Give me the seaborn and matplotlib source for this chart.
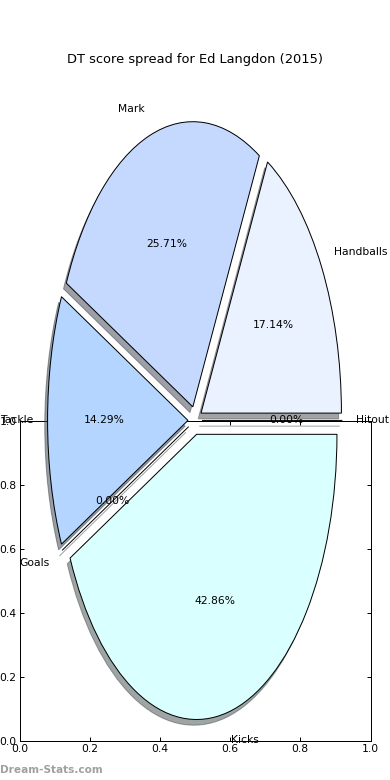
import matplotlib
matplotlib.use("Agg")
import matplotlib.pyplot as plt
import seaborn as sns

# ---- data ----
labels = ["Hitout", "Handballs", "Mark", "Tackle", "Goals", "Kicks"]
values = [0, 18, 27, 15, 0, 45]
colors = ["#E0E8FF", "#EAF1FF", "#C5D9FF", "#B3D5FF", "#D0E8FF", "#DAFFFF"]
explode = [0.05, 0.05, 0.05, 0.05, 0.05, 0.05]
axis_ticks = [0.0, 0.2, 0.4, 0.6, 0.8, 1.0]
axis_tick_labels = ["0.0", "0.2", "0.4", "0.6", "0.8", "1.0"]
title = "DT score spread for Ed Langdon (2015)"
watermark = "Dream-Stats.com"

sns.set_style("ticks", {"xtick.direction": "in", "ytick.direction": "in"})
plt.rcParams["font.family"] = ["DejaVu Sans"]
plt.rcParams["text.color"] = "black"
plt.rcParams["xtick.color"] = "black"
plt.rcParams["ytick.color"] = "black"

DPI = 72
FS = 10.8
fig = plt.figure(figsize=(390 / DPI, 780 / DPI), dpi=DPI)
fig.patch.set_facecolor("white")

# background (empty) axes with 0..1 ticks
ax_bg = fig.add_axes([0.05, 0.05, 0.9, 0.41])
ax_bg.set_xlim(0, 1)
ax_bg.set_ylim(0, 1)
ax_bg.set_xticks(axis_ticks)
ax_bg.set_yticks(axis_ticks)
ax_bg.set_xticklabels(axis_tick_labels)
ax_bg.set_yticklabels(axis_tick_labels)
ax_bg.tick_params(direction="in", top=True, right=True, length=4, width=1,
                  pad=3, labelsize=FS, color="black", labelcolor="black")
for s in ax_bg.spines.values():
    s.set_visible(True)
    s.set_linewidth(1)
    s.set_color("black")
ax_bg.set_facecolor("white")

# pie axes (stretched, no frame)
ax_pie = fig.add_axes([0.05, 0.004, 0.9, 0.914])
ax_pie.pie(values, labels=labels, colors=colors, explode=explode,
           autopct="%1.2f%%", shadow=True, startangle=0,
           pctdistance=0.6, labeldistance=1.1,
           wedgeprops=dict(edgecolor="black", linewidth=1),
           textprops=dict(fontsize=FS, color="black"))
ax_pie.set_aspect("auto")
ax_pie.set_xlim(-1.25, 1.25)
ax_pie.set_ylim(-1.25, 1.25)
ax_pie.set_axis_off()

fig.text(0.5, 1 - 60 / 780, title, ha="center", va="center", fontsize=13,
         color="black")
fig.text(0.0, 1 - 770 / 780, watermark, ha="left", va="center",
         fontsize=10.5, fontweight="bold", color="#A0A0A0")

fig.savefig("out.png", dpi=DPI, facecolor="white")
